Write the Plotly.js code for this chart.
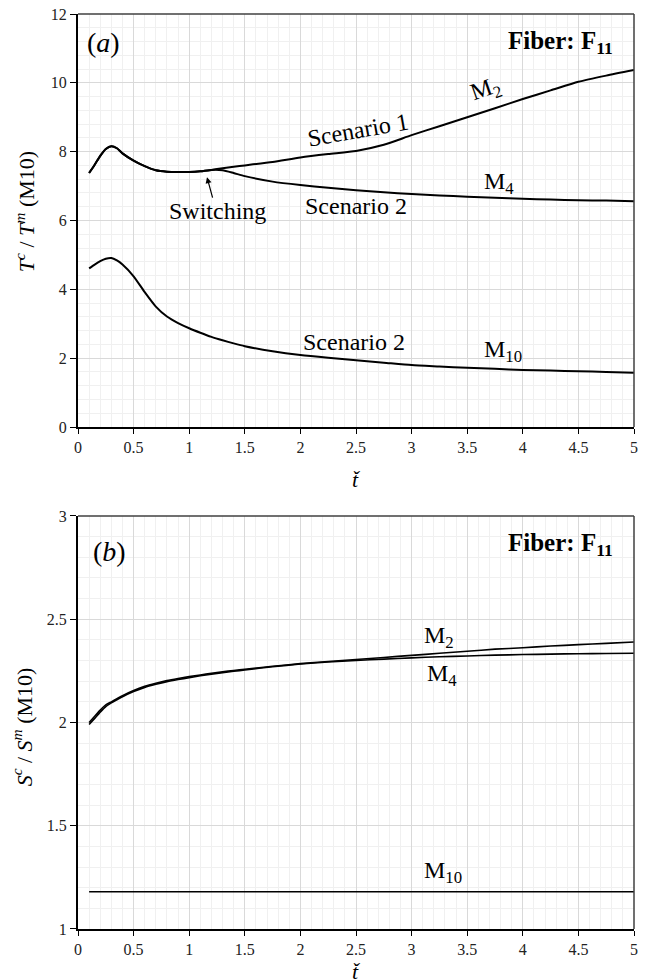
<!DOCTYPE html>
<html>
<head>
<meta charset="utf-8">
<script src="https://cdn.plot.ly/plotly-3.0.1.min.js"></script>
<style>html,body{margin:0;padding:0;background:#fff;}#chart{width:649px;height:979px;}</style>
</head>
<body>
<div id="chart"></div>
<script>
// ---------- data ----------
const tauTop = [0.1,0.15,0.2,0.25,0.3,0.35,0.4,0.5,0.6,0.7,0.8,0.9,1.0,1.1,1.2,1.3,1.4,1.5,1.75,2.0,2.25,2.5,2.75,3.0,3.25,3.5,3.75,4.0,4.25,4.5,4.75,5.0];
// (a) T^c / T^m (M10)
const topM2 = [7.38,7.62,7.88,8.08,8.16,8.10,7.95,7.74,7.58,7.46,7.42,7.41,7.41,7.43,7.47,7.52,7.56,7.60,7.70,7.83,7.93,8.02,8.20,8.48,8.74,9.00,9.26,9.53,9.78,10.03,10.21,10.37];
const topM4 = [7.38,7.62,7.88,8.08,8.16,8.10,7.95,7.74,7.58,7.46,7.42,7.41,7.41,7.43,7.47,7.46,7.38,7.29,7.13,7.03,6.95,6.88,6.82,6.77,6.73,6.69,6.66,6.63,6.61,6.59,6.58,6.56];
const topM10 = [4.61,4.72,4.82,4.89,4.91,4.84,4.72,4.38,3.92,3.50,3.21,3.02,2.87,2.74,2.62,2.52,2.43,2.35,2.20,2.09,2.01,1.94,1.87,1.80,1.76,1.72,1.69,1.66,1.64,1.62,1.60,1.58];
// (b) S^c / S^m (M10)
const tauBot = [0.1,0.15,0.2,0.25,0.3,0.35,0.4,0.5,0.6,0.7,0.8,0.9,1.0,1.1,1.2,1.3,1.4,1.5,1.75,2.0,2.25,2.5,2.75,3.0,3.25,3.5,3.75,4.0,4.25,4.5,4.75,5.0];
const botM2 = [2.0,2.03,2.06,2.085,2.10,2.115,2.13,2.155,2.175,2.19,2.203,2.213,2.222,2.23,2.238,2.245,2.252,2.258,2.272,2.285,2.295,2.305,2.315,2.325,2.335,2.345,2.355,2.362,2.37,2.377,2.383,2.39];
const botM4 = [1.99,2.02,2.05,2.077,2.095,2.11,2.125,2.15,2.17,2.185,2.198,2.208,2.217,2.226,2.234,2.241,2.248,2.254,2.27,2.283,2.293,2.30,2.307,2.313,2.318,2.322,2.326,2.329,2.331,2.333,2.334,2.335];
const botM10 = [1.18,1.18,1.18,1.18,1.18,1.18,1.18,1.18,1.18,1.18,1.18,1.18,1.18,1.18,1.18,1.18,1.18,1.18,1.18,1.18,1.18,1.18,1.18,1.18,1.18,1.18,1.18,1.18,1.18,1.18,1.18,1.18];

const FONT = 'Liberation Serif, Times New Roman, serif';

function line(x, y, xa, ya, w, name) {
  return {x: x, y: y, xaxis: xa, yaxis: ya, type: 'scatter', mode: 'lines', name: name,
          line: {color: '#000', width: w, shape: 'spline', smoothing: 0.6}, hoverinfo: 'skip'};
}

const traces = [
  line(tauTop, topM4, 'x', 'y', 2, 'M4 Scenario 2'),
  line(tauTop, topM2, 'x', 'y', 2, 'M2 Scenario 1'),
  line(tauTop, topM10, 'x', 'y', 2, 'M10 Scenario 2'),
  line(tauBot, botM2, 'x2', 'y2', 1.6, 'M2'),
  line(tauBot, botM4, 'x2', 'y2', 1.6, 'M4'),
  line(tauBot, botM10, 'x2', 'y2', 1.5, 'M10')
];

function xAxis(anchor) {
  return {anchor: anchor, domain: [0, 1], range: [0, 5], dtick: 0.5, tick0: 0,
    showline: true, linewidth: 2, linecolor: '#000', mirror: false,
    ticks: 'outside', ticklen: 5, tickwidth: 1, tickcolor: '#000',
    showgrid: true, gridcolor: '#d9d9d9', gridwidth: 1, zeroline: false,
    minor: {dtick: 0.1, showgrid: true, gridcolor: '#f0f0f0', gridwidth: 1, ticks: ''},
    tickfont: {family: FONT, size: 16, color: '#222'}, fixedrange: true};
}
function yAxis(anchor, dom, rng, dt, mdt) {
  return {anchor: anchor, domain: dom, range: rng, dtick: dt, tick0: rng[0],
    showline: true, linewidth: 2, linecolor: '#000', mirror: false,
    ticks: 'outside', ticklen: 6, tickwidth: 1, tickcolor: '#000',
    showgrid: true, gridcolor: '#d9d9d9', gridwidth: 1, zeroline: false,
    minor: {dtick: mdt, showgrid: true, gridcolor: '#f0f0f0', gridwidth: 1, ticks: ''},
    tickfont: {family: FONT, size: 16, color: '#222'}, fixedrange: true};
}

function txt(xr, yr, x, y, text, size, angle, extra) {
  return Object.assign({xref: xr, yref: yr, x: x, y: y, text: text, showarrow: false,
    font: {family: FONT, size: size, color: '#000'}, textangle: angle || 0,
    xanchor: 'center', yanchor: 'middle'}, extra || {});
}

const L = 24;
const TAU = '<i>t\u034F\u030C</i>';
const annotations = [
  txt('x', 'y', 0.23, 11.16, '(<i>a</i>)', 28),
  txt('x', 'y', 4.34, 11.16, '<b>Fiber: F<sub>11</sub></b>', 25),
  txt('x', 'y', 2.52, 8.63, 'Scenario 1', L, -10),
  txt('x', 'y', 3.67, 9.79, 'M<sub>2</sub>', L, -19),
  txt('x', 'y', 3.79, 7.09, 'M<sub>4</sub>', L),
  txt('x', 'y', 2.5, 6.42, 'Scenario 2', L),
  txt('x', 'y', 1.25, 6.28, 'Switching', L),
  {xref: 'x', yref: 'y', x: 1.16, y: 7.26, ax: 6, ay: 22, text: '', showarrow: true,
   arrowhead: 2, arrowsize: 1, arrowwidth: 1.2, arrowcolor: '#000'},
  txt('x', 'y', 2.48, 2.47, 'Scenario 2', L),
  txt('x', 'y', 3.82, 2.22, 'M<sub>10</sub>', L),
  txt('x2', 'y2', 0.28, 2.826, '(<i>b</i>)', 28),
  txt('x2', 'y2', 4.34, 2.86, '<b>Fiber: F<sub>11</sub></b>', 25),
  txt('x2', 'y2', 3.25, 2.414, 'M<sub>2</sub>', L),
  txt('x2', 'y2', 3.27, 2.23, 'M<sub>4</sub>', L),
  txt('x2', 'y2', 3.28, 1.276, 'M<sub>10</sub>', L),
  // axis titles
  txt('paper', 'paper', -0.095, 0.7836, '<i>T<sup>c</sup></i> / <i>T<sup>m</sup></i> (M10)', 22, -90),
  txt('paper', 'paper', -0.1, 0.2208, '<i>S<sup>c</sup></i> / <i>S<sup>m</sup></i> (M10)', 22, -90),
  txt('paper', 'paper', 0.5, 0.4918, TAU, 22),
  txt('paper', 'paper', 0.5, -0.0465, TAU, 22)
];

const borderStyle = {color: '#404040', width: 1.5};
const shapes = [
  {type: 'line', xref: 'x domain', yref: 'y domain', x0: 0, x1: 1, y0: 1, y1: 1, line: borderStyle, layer: 'above'},
  {type: 'line', xref: 'x domain', yref: 'y domain', x0: 1, x1: 1, y0: 0, y1: 1, line: borderStyle, layer: 'above'},
  {type: 'line', xref: 'x2 domain', yref: 'y2 domain', x0: 0, x1: 1, y0: 1, y1: 1, line: borderStyle, layer: 'above'},
  {type: 'line', xref: 'x2 domain', yref: 'y2 domain', x0: 1, x1: 1, y0: 0, y1: 1, line: borderStyle, layer: 'above'}
];

const layout = {
  width: 649, height: 979,
  margin: {l: 78, r: 15, t: 14, b: 50},
  paper_bgcolor: '#fff', plot_bgcolor: '#fff',
  showlegend: false,
  font: {family: FONT, size: 16, color: '#000'},
  xaxis: xAxis('y'),
  yaxis: yAxis('x', [0.5486, 1], [0, 12], 2, 0.4),
  xaxis2: xAxis('y2'),
  yaxis2: yAxis('x2', [0, 0.4514], [1, 3], 0.5, 0.1),
  annotations: annotations,
  shapes: shapes
};

Plotly.newPlot('chart', traces, layout, {displayModeBar: false, staticPlot: true});
</script>
</body>
</html>
